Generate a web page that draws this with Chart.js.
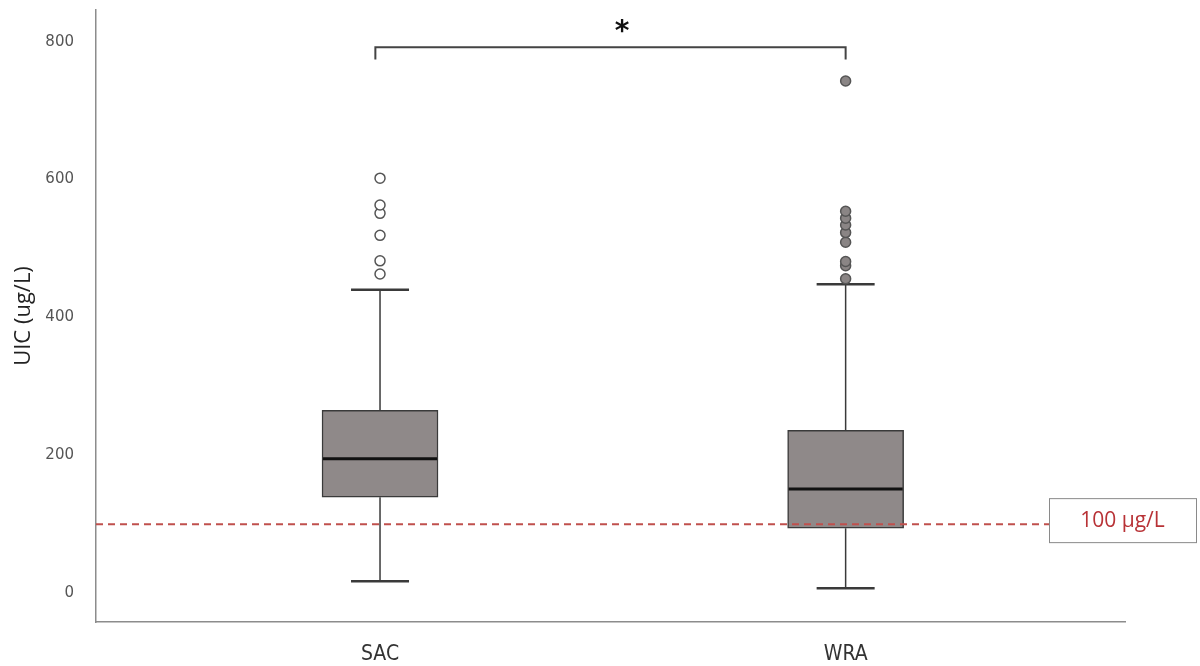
<!DOCTYPE html>
<html>
<head>
<meta charset="utf-8">
<script src="https://cdn.jsdelivr.net/npm/chart.js@4/dist/chart.umd.min.js"></script>
<style>
  body { margin: 0; background: #fff; }
  #wrap { width: 1200px; height: 666px; }
</style>
</head>
<body>
<div id="wrap"><canvas id="box" width="1200" height="666"></canvas></div>
<script>
// box plot stats (ug/L)
const groups = ["SAC", "WRA"];
const groupPos = [1, 2];
const whiskerLow = [17, 7];
const q1 = [139, 94];
const median = [195, 151];
const q3 = [265, 236];
const whiskerHigh = [440, 448];
const outliersSAC = [463, 482, 519, 551, 563, 602];
const outliersWRA = [456, 475, 481, 509, 523, 534, 544, 554, 743];
const yTicks = [0, 200, 400, 600, 800];
const refValue = 100;
const refLabel = "100 µg/L";
const bracketY = [774, 792];
const sigMark = "*";

const boxFill = "#8f8989";
const lineCol = "#3a3a3a";
const refCol = "#c0504d";

const boxPlugin = {
  id: "boxParts",
  beforeDatasetsDraw(chart) {
    const { ctx, scales: { x, y } } = chart;
    ctx.save();
    ctx.strokeStyle = lineCol;
    groupPos.forEach((p, i) => {
      const cx = x.getPixelForValue(p);
      const capW = 29;
      ctx.lineWidth = 1.5;
      ctx.beginPath();
      ctx.moveTo(cx, y.getPixelForValue(q3[i]));
      ctx.lineTo(cx, y.getPixelForValue(whiskerHigh[i]));
      ctx.moveTo(cx, y.getPixelForValue(q1[i]));
      ctx.lineTo(cx, y.getPixelForValue(whiskerLow[i]));
      ctx.stroke();
      ctx.lineWidth = 2.5;
      ctx.beginPath();
      ctx.moveTo(cx - capW, y.getPixelForValue(whiskerHigh[i]));
      ctx.lineTo(cx + capW, y.getPixelForValue(whiskerHigh[i]));
      ctx.moveTo(cx - capW, y.getPixelForValue(whiskerLow[i]));
      ctx.lineTo(cx + capW, y.getPixelForValue(whiskerLow[i]));
      ctx.stroke();
    });
    ctx.restore();
  },
  afterDatasetsDraw(chart) {
    const { ctx, chartArea, scales: { x, y } } = chart;
    ctx.save();
    // medians
    ctx.strokeStyle = "#111";
    ctx.lineWidth = 3;
    groupPos.forEach((p, i) => {
      const cx = x.getPixelForValue(p);
      const my = y.getPixelForValue(median[i]);
      ctx.beginPath();
      ctx.moveTo(cx - 57, my);
      ctx.lineTo(cx + 57, my);
      ctx.stroke();
    });
    // reference line + label box
    const ry = y.getPixelForValue(refValue);
    const boxL = 1049, boxR = 1196;
    ctx.strokeStyle = refCol;
    ctx.lineWidth = 2;
    ctx.setLineDash([7, 5]);
    ctx.beginPath();
    ctx.moveTo(chartArea.left, ry);
    ctx.lineTo(boxL, ry);
    ctx.stroke();
    ctx.setLineDash([]);
    ctx.fillStyle = "#fff";
    ctx.fillRect(boxL, ry - 25, boxR - boxL, 44);
    ctx.strokeStyle = "#8a8a8a";
    ctx.lineWidth = 1;
    ctx.strokeRect(boxL + 0.5, ry - 25.5, boxR - boxL, 44);
    ctx.fillStyle = "#b83236";
    ctx.font = "21px 'Open Sans', sans-serif";
    ctx.textAlign = "center";
    ctx.textBaseline = "middle";
    ctx.fillText(refLabel, (boxL + boxR) / 2, ry - 3);
    // significance star
    ctx.fillStyle = "#111";
    ctx.font = "bold 28px 'DejaVu Sans', sans-serif";
    ctx.fillText(sigMark, x.getPixelForValue(1.52), y.getPixelForValue(bracketY[1]) - 14);
    ctx.restore();
  }
};

const outlierSet = (vals, p, fill) => ({
  type: "line",
  showLine: false,
  data: vals.map(v => ({ x: p, y: v })),
  pointRadius: 5,
  pointBackgroundColor: fill,
  pointBorderColor: "#555",
  pointBorderWidth: 1.5,
  pointHoverRadius: 5
});

new Chart(document.getElementById("box"), {
  type: "bar",
  data: {
    datasets: [
      {
        data: groupPos.map((p, i) => ({ x: p, y: [q1[i], q3[i]] })),
        backgroundColor: boxFill,
        borderColor: lineCol,
        borderWidth: 1.5,
        borderSkipped: false,
        barThickness: 116
      },
      outlierSet(outliersSAC, groupPos[0], "#fff"),
      outlierSet(outliersWRA, groupPos[1], "#8a8585"),
      {
        type: "line",
        data: [
          { x: groupPos[0] - 0.01, y: bracketY[0] },
          { x: groupPos[0] - 0.01, y: bracketY[1] },
          { x: groupPos[1], y: bracketY[1] },
          { x: groupPos[1], y: bracketY[0] }
        ],
        borderColor: "#444",
        borderWidth: 2,
        pointRadius: 0,
        fill: false
      }
    ]
  },
  options: {
    responsive: false,
    animation: false,
    layout: { padding: { top: 10, right: 75, left: 0, bottom: 0 } },
    plugins: { legend: { display: false }, tooltip: { enabled: false } },
    scales: {
      x: {
        type: "linear",
        offset: false,
        min: 0.39,
        max: 2.6,
        grid: { display: false, offset: false },
        border: { display: true, color: "#8c8c8c", width: 1.5 },
        afterBuildTicks: s => { s.ticks = groupPos.map(v => ({ value: v })); },
        afterFit: s => { s.height = 44; s.paddingLeft = 0; s.paddingRight = 0; },
        ticks: {
          padding: 12,
          color: "#333",
          font: { family: "'Liberation Sans Narrow', 'DejaVu Sans Condensed', 'Open Sans', sans-serif", size: 21 },
          callback: v => groups[groupPos.indexOf(v)]
        }
      },
      y: {
        min: -42,
        max: 846,
        grid: { display: false },
        border: { display: true, color: "#8c8c8c", width: 1.5 },
        afterBuildTicks: s => { s.ticks = yTicks.map(v => ({ value: v })); },
        afterFit: s => { s.width = 96; s.paddingTop = 0; s.paddingBottom = 0; },
        ticks: {
          padding: 14,
          color: "#555",
          font: { family: "'DejaVu Sans', sans-serif", size: 15 }
        },
        title: {
          display: true,
          text: "UIC (ug/L)",
          color: "#222",
          padding: { top: 11, bottom: 0 },
          font: { family: "'Open Sans', sans-serif", size: 22 }
        }
      }
    }
  },
  plugins: [boxPlugin]
});
</script>
</body>
</html>
